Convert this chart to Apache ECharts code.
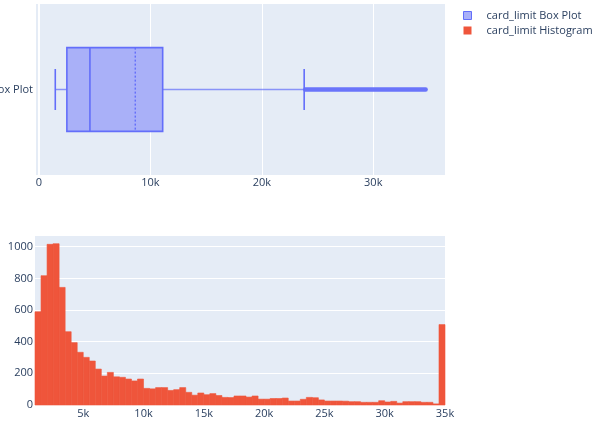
<!DOCTYPE html>
<html><head><meta charset="utf-8">
<script src="https://cdn.jsdelivr.net/npm/echarts@6/dist/echarts.min.js"></script>
<style>html,body{margin:0;padding:0;background:#fff}#c{width:595px;height:421px}</style>
</head><body><div id="c"></div>
<script>
// ---- data ----
const boxCategories = ['card_limit Box Plot'];
const boxStats = [1460, 2500, 4570, 11100, 23800]; // lower whisker, Q1, median, Q3, upper whisker
const boxMean = [8640];
const boxOutlierRange = [23900, 34700];
const histBinStart = 1000;
const histBinSize = 500;
const histCounts = [589, 817, 1015, 1019, 743, 463, 394, 333, 301, 278,
  227, 183, 206, 178, 175, 164, 152, 164, 105, 102,
  110, 110, 92, 97, 110, 80, 62, 76, 65, 72,
  60, 48, 47, 57, 57, 50, 57, 37, 37, 41,
  41, 44, 25, 25, 36, 48, 46, 32, 25, 25,
  25, 24, 21, 21, 17, 17, 17, 27, 19, 23,
  12, 21, 21, 21, 17, 17, 7, 508];
const legendNames = ['card_limit Box Plot', 'card_limit Histogram'];

// ---- styling ----
const TXT = '#2a3f5f', BG = '#E5ECF6', BLUE = '#636EFA', BLUE_FILL = '#A9B0F8', RED = '#EF553B';
const FONT = 'Open Sans';
const kFmt = v => v === 0 ? '0' : (v / 1000) + 'k';

const histData = histCounts.map((c, i) => [histBinStart + i * histBinSize, histBinStart + (i + 1) * histBinSize, c]);
const boxData = [[...boxStats, boxMean[0], ...boxOutlierRange, 0]];

const chart = echarts.init(document.getElementById('c'), null, {renderer: 'canvas'});
chart.setOption({
  backgroundColor: '#fff',
  textStyle: {fontFamily: FONT},
  animation: false,
  legend: {
    orient: 'vertical', left: 463, top: 10, padding: 0, itemWidth: 8, itemHeight: 8, itemGap: 4,
    textStyle: {fontSize: 11, color: TXT, fontFamily: FONT, padding: [0, 0, 0, 10]},
    data: [
      {name: legendNames[0], icon: 'rect', itemStyle: {color: BLUE_FILL, borderColor: BLUE, borderWidth: 1}},
      {name: legendNames[1], icon: 'rect', itemStyle: {color: RED}}
    ]
  },
  grid: [
    {left: 35, right: 150, top: 4, height: 171, backgroundColor: BG, show: true, borderWidth: 0, outerBoundsMode: 'none', containLabel: false},
    {left: 35, right: 150, top: 235, bottom: 16, backgroundColor: BG, show: true, borderWidth: 0, outerBoundsMode: 'none', containLabel: false}
  ],
  xAxis: [
    {type: 'value', gridIndex: 0, min: -360, max: 36440, splitNumber: 5,
     axisLine: {show: false}, axisTick: {show: false},
     splitLine: {show: true, lineStyle: {color: '#fff', width: 1}},
     axisLabel: {formatter: kFmt, showMinLabel: false, showMaxLabel: false, fontSize: 11, color: TXT, margin: 2, fontFamily: FONT}},
    {type: 'value', gridIndex: 1, min: 1000, max: 35000, splitNumber: 7,
     axisLine: {show: false}, axisTick: {show: false},
     splitLine: {show: false},
     axisLabel: {formatter: kFmt, showMinLabel: false, showMaxLabel: true, fontSize: 11, color: TXT, margin: 3, fontFamily: FONT}}
  ],
  yAxis: [
    {type: 'category', gridIndex: 0, data: boxCategories,
     axisLine: {show: false}, axisTick: {show: false}, splitLine: {show: false},
     axisLabel: {fontSize: 11, color: TXT, margin: 2, fontFamily: FONT}},
    {type: 'value', gridIndex: 1, min: 0, max: 1074, splitNumber: 5,
     axisLine: {show: false}, axisTick: {show: false},
     splitLine: {show: true, lineStyle: {color: '#fff', width: 1}},
     axisLabel: {formatter: v => String(v), showMaxLabel: false, fontSize: 11, color: TXT, margin: 2, fontFamily: FONT}}
  ],
  series: [
    {
      name: legendNames[0], type: 'custom', xAxisIndex: 0, yAxisIndex: 0,
      itemStyle: {color: BLUE_FILL},
      encode: {x: [0, 1, 2, 3, 4, 5, 6, 7], y: 8},
      data: boxData,
      renderItem: function (params, api) {
        const cat = api.value(8);
        const X = i => api.coord([api.value(i), cat])[0];
        const yc = api.coord([0, cat])[1];
        const x0 = api.coord([0, cat])[0];
        const band = api.size([0, 1])[1];
        const hb = band * 0.245, hc = band * 0.12;
        const top = params.coordSys.y, h = params.coordSys.height;
        const ls = {stroke: BLUE, lineWidth: 1.6};
        const xmin = X(0), q1 = X(1), med = X(2), q3 = X(3), xmax = X(4), mean = X(5), o0 = X(6), o1 = X(7);
        return {type: 'group', children: [
          {type: 'line', shape: {x1: x0, y1: top, x2: x0, y2: top + h}, style: {stroke: '#fff', lineWidth: 2}},
          {type: 'line', shape: {x1: xmin, y1: yc, x2: q1, y2: yc}, style: {stroke: BLUE, lineWidth: 1.5, opacity: 0.7}},
          {type: 'line', shape: {x1: q3, y1: yc, x2: xmax, y2: yc}, style: {stroke: BLUE, lineWidth: 1.5, opacity: 0.7}},
          {type: 'line', shape: {x1: xmin, y1: yc - hc, x2: xmin, y2: yc + hc}, style: ls},
          {type: 'line', shape: {x1: xmax, y1: yc - hc, x2: xmax, y2: yc + hc}, style: ls},
          {type: 'rect', shape: {x: q1, y: yc - hb, width: q3 - q1, height: 2 * hb}, style: {fill: BLUE_FILL, stroke: BLUE, lineWidth: 1.6}},
          {type: 'line', shape: {x1: med, y1: yc - hb, x2: med, y2: yc + hb}, style: ls},
          {type: 'line', shape: {x1: mean, y1: yc - hb, x2: mean, y2: yc + hb}, style: {stroke: BLUE, lineWidth: 1.4, lineDash: [2, 2]}},
          {type: 'line', shape: {x1: o0, y1: yc, x2: o1, y2: yc}, style: {stroke: BLUE, lineWidth: 4.5, lineCap: 'round', opacity: 0.95}}
        ]};
      }
    },
    {
      name: legendNames[1], type: 'custom', xAxisIndex: 1, yAxisIndex: 1,
      itemStyle: {color: RED},
      encode: {x: [0, 1], y: 2},
      data: histData,
      renderItem: function (params, api) {
        const p0 = api.coord([api.value(0), 0]);
        const p1 = api.coord([api.value(1), api.value(2)]);
        return {type: 'rect', shape: {x: p0[0], y: p1[1], width: p1[0] - p0[0], height: p0[1] - p1[1]},
          style: {fill: RED, stroke: RED, lineWidth: 0.6}};
      }
    }
  ]
});
</script></body></html>
